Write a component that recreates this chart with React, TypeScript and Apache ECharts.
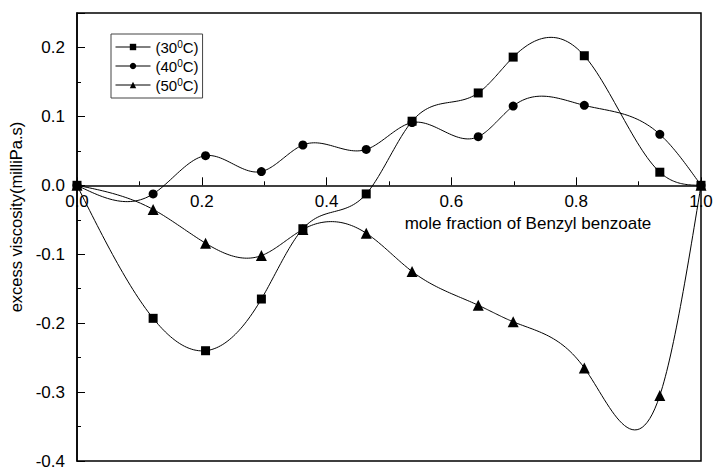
import React, { useEffect, useRef } from "react";
import * as echarts from "echarts";

// Mole fraction of benzyl benzoate (shared by all three temperatures)
const moleFraction = [0, 0.122, 0.206, 0.2955, 0.362, 0.4635, 0.537, 0.643, 0.699, 0.813, 0.934, 1.0];
// Temperatures (°C)
const temps = [30, 40, 50];
// Excess viscosity (milliPa.s) at each temperature
const visc30 = [0, -0.193, -0.24, -0.165, -0.063, -0.0125, 0.093, 0.134, 0.186, 0.188, 0.019, 0];
const visc40 = [0, -0.0125, 0.043, 0.02, 0.0585, 0.052, 0.091, 0.0705, 0.115, 0.116, 0.074, 0];
const visc50 = [0, -0.035, -0.084, -0.102, -0.064, -0.0695, -0.125, -0.174, -0.198, -0.265, -0.305, 0];
const viscSeries = [visc30, visc40, visc50];
const markerShapes = ["rect", "circle", "triangle"];
const markerSizes = [9, 9, 11];

// Value axis extent
const Y_MIN = -0.4;
const Y_MAX = 0.25;

const FONT = "'Liberation Sans', Arial, Helvetica, sans-serif";
const W = 713;
const H = 469;
const GRID = { left: 77, right: 12, top: 13, bottom: 8 };

// Natural cubic spline through the points; returns an evaluator for segment i.
function naturalSpline(xs: number[], ys: number[]) {
  const n = xs.length;
  const h: number[] = [];
  for (let i = 0; i < n - 1; i++) h.push(xs[i + 1] - xs[i]);
  const a: number[] = [];
  const b: number[] = [];
  const c: number[] = [];
  const d: number[] = [];
  for (let i = 1; i < n - 1; i++) {
    a.push(h[i - 1]);
    b.push(2 * (h[i - 1] + h[i]));
    c.push(h[i]);
    d.push(6 * ((ys[i + 1] - ys[i]) / h[i] - (ys[i] - ys[i - 1]) / h[i - 1]));
  }
  const k = d.length;
  for (let r = 1; r < k; r++) {
    const w = a[r] / b[r - 1];
    b[r] -= w * c[r - 1];
    d[r] -= w * d[r - 1];
  }
  const sol = new Array(k).fill(0);
  sol[k - 1] = d[k - 1] / b[k - 1];
  for (let r = k - 2; r >= 0; r--) sol[r] = (d[r] - c[r] * sol[r + 1]) / b[r];
  const m = new Array(n).fill(0);
  for (let r = 0; r < k; r++) m[r + 1] = sol[r];
  return (i: number, x: number) => {
    const hi = h[i];
    const A = xs[i + 1] - x;
    const B = x - xs[i];
    return (
      (m[i] * A * A * A) / (6 * hi) +
      (m[i + 1] * B * B * B) / (6 * hi) +
      (ys[i] / hi - (m[i] * hi) / 6) * A +
      (ys[i + 1] / hi - (m[i + 1] * hi) / 6) * B
    );
  };
}

const seriesName = (t: number) => `(${t}\u2070C)`;

export default function App() {
  const ref = useRef<HTMLDivElement>(null);

  useEffect(() => {
    if (!ref.current) return;
    const chart = echarts.init(ref.current, undefined, { renderer: "svg" });

    const curves = viscSeries.map((ys, s) => {
      const evalSeg = naturalSpline(moleFraction, ys);
      return {
        type: "custom",
        name: `curve-${temps[s]}`,
        silent: true,
        z: 2,
        data: moleFraction.map((x, i) => [x, ys[i]]),
        encode: { x: 0, y: 1 },
        renderItem: (params: any, api: any) => {
          const i = params.dataIndex;
          if (i >= moleFraction.length - 1) return null;
          const x0 = moleFraction[i];
          const x1 = moleFraction[i + 1];
          const steps = 30;
          const points: number[][] = [];
          for (let j = 0; j <= steps; j++) {
            const x = x0 + ((x1 - x0) * j) / steps;
            points.push(api.coord([x, evalSeg(i, x)]));
          }
          return {
            type: "polyline",
            shape: { points },
            style: { stroke: "#000", lineWidth: 1, fill: "none" },
          };
        },
      };
    });

    const markers = viscSeries.map((ys, s) => ({
      type: "line",
      name: seriesName(temps[s]),
      data: moleFraction.map((x, i) => [x, ys[i]]),
      symbol: markerShapes[s],
      symbolSize: markerSizes[s],
      showSymbol: true,
      lineStyle: { opacity: 0 },
      itemStyle: { color: "#000" },
      emphasis: { disabled: true },
      z: 3,
    }));

    // The horizontal axis sits on the zero line: lift it from the grid bottom.
    const plotH = H - GRID.top - GRID.bottom;
    const zeroLift = (plotH * (0 - Y_MIN)) / (Y_MAX - Y_MIN);

    chart.setOption({
      animation: false,
      backgroundColor: "#fff",
      textStyle: { fontFamily: FONT, color: "#000" },
      grid: {
        ...GRID,
        show: true,
        borderColor: "#000",
        borderWidth: 1.5,
        containLabel: false,
        outerBoundsMode: "none",
      },
      legend: {
        data: temps.map(seriesName),
        orient: "vertical",
        left: 111,
        top: 34,
        padding: [5, 4, 5, 4],
        itemGap: 3,
        itemWidth: 35,
        itemHeight: 8,
        itemTextGap: 3,
        borderColor: "#444",
        borderWidth: 1,
        selectedMode: false,
        lineStyle: { opacity: 1, width: 1, color: "#000" },
        itemStyle: { color: "#000" },
        formatter: (n: string) => n.replace("\u2070", "{s|0}"),
        textStyle: {
          fontFamily: FONT,
          fontSize: 15,
          color: "#000",
          lineHeight: 16,
          rich: {
            s: { fontFamily: FONT, fontSize: 10, color: "#000", verticalAlign: "top", lineHeight: 16 },
          },
        },
      },
      xAxis: {
        type: "value",
        min: 0,
        max: 1,
        interval: 0.2,
        offset: -zeroLift,
        axisLine: { onZero: false, lineStyle: { color: "#000", width: 1.5 } },
        axisTick: { inside: true, length: 8, lineStyle: { color: "#000", width: 1 } },
        minorTick: { show: true, splitNumber: 2, length: 4, lineStyle: { color: "#000", width: 1 } },
        splitLine: { show: false },
        axisLabel: {
          color: "#000",
          fontFamily: FONT,
          fontSize: 17,
          margin: 8,
          formatter: (v: number) => v.toFixed(1),
        },
        name: "mole fraction of Benzyl benzoate",
        nameLocation: "middle",
        nameGap: 26,
        nameTextStyle: { fontFamily: FONT, fontSize: 17, color: "#000", padding: [0, 0, 0, 278] },
      },
      yAxis: {
        type: "value",
        min: Y_MIN,
        max: Y_MAX,
        interval: 0.1,
        axisLine: { show: true, onZero: false, lineStyle: { color: "#000", width: 1.5 } },
        axisTick: { show: true, inside: true, length: 8, lineStyle: { color: "#000", width: 1 } },
        minorTick: { show: true, splitNumber: 2, length: 4, lineStyle: { color: "#000", width: 1 } },
        splitLine: { show: false },
        axisLabel: {
          color: "#000",
          fontFamily: FONT,
          fontSize: 17,
          lineHeight: 13,
          margin: 12,
          formatter: (v: number) => (v > 0.21 ? "" : v.toFixed(1)),
        },
        name: "excess viscosity(milliPa.s)",
        nameLocation: "middle",
        nameGap: 42,
        nameTextStyle: { fontFamily: FONT, fontSize: 16.5, color: "#000", padding: [0, 0, 0, 40] },
      },
      series: [...curves, ...markers],
    } as any);

    return () => chart.dispose();
  }, []);

  return (
    <div
      ref={ref}
      style={{ position: "absolute", left: 0, top: 0, width: W, height: H }}
    />
  );
}
